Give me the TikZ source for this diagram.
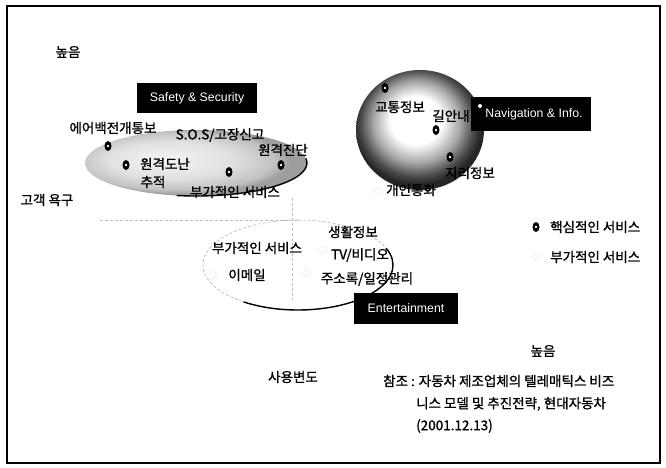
\documentclass[tikz,border=0pt]{standalone}
\usepackage{fontspec}
\setmainfont{Noto Sans CJK KR}[FakeBold=1.2]
\newfontfamily\latinf{Liberation Sans}
\usetikzlibrary{shapes.geometric}
\pgfdeclareradialshading{navball}{\pgfpoint{-2bp}{5bp}}{color(0bp)=(white); color(10bp)=(white); color(17bp)=(black!35); color(22bp)=(black!70); color(25bp)=(black!85); color(50bp)=(black!85)}
\pgfdeclareradialshading{safeball}{\pgfpoint{-8bp}{3bp}}{color(0bp)=(black!4); color(14bp)=(black!12); color(22bp)=(black!24); color(25bp)=(black!38); color(50bp)=(black!38)}
\begin{document}
\begin{tikzpicture}[x=1pt,y=-1pt,
  lbl/.style={font=\fontsize{13.5}{15}\selectfont, inner sep=0pt},
  tag/.style={fill=black, text=white, font=\latinf\fontsize{12.3}{14}\selectfont, inner sep=0pt},
  core/.style={ellipse, fill=black, minimum width=7pt, minimum height=10pt, inner sep=0pt,
     path picture={\fill[white] (path picture bounding box.center) circle (1.4pt);}},
  aux/.style={circle, draw=black!30, densely dotted, minimum size=7pt, inner sep=0pt},
  faint/.style={draw=black!25, densely dashed, line width=0.5pt}]
\useasboundingbox (0,0) rectangle (666,468);
\draw[line width=1.3pt] (7,6) rectangle (660,463);

% faint guide lines
\draw[faint] (100,220) -- (300,220);
\draw[faint] (292,198) -- (292,300);

% Safety & Security
\shade[shading=safeball] (196,163) ellipse [x radius=111, y radius=33];
\draw[line width=1.4pt] (196,163) ++(100:111 and 33) arc [start angle=100, end angle=-8, x radius=111, y radius=33];
\node[lbl] (airbag) at (113,128) {에어백전개통보};
\node[lbl] (sos) at (220,135) {S.O.S/고장신고};
\node[lbl] (diag) at (283,150) {원격진단};
\node[lbl] (theft) at (165,164) {원격도난};
\node[lbl] (track) at (153,182) {추적};
\node[lbl] (ssadd) at (235,192) {부가적인 서비스};
\node[core] (s1) at (108,146) {};
\node[core] (s2) at (126,165) {};
\node[core] (s3) at (229,172) {};
\node[core] (s4) at (281,165) {};
\node[tag, minimum width=120pt, minimum height=30pt] (ss) at (197,98) {Safety \& Security};

% Navigation & Info
\shade[shading=navball] (420,130) ellipse [x radius=64, y radius=60];
\node[lbl] (traffic) at (400,107) {교통정보};
\node[lbl] (route) at (451,116) {길안내};
\node[lbl] (geo) at (470,173) {지리정보};
\node[lbl] (call) at (411,190) {개인통화};
\node[aux] (n4) at (378,191) {};
\node[core] (n1) at (385,88) {};
\node[core] (n2) at (436,130) {};
\node[core] (n3) at (450,157) {};
\node[tag, minimum width=120pt, minimum height=33pt] (nav) at (531,114) {\hspace{6pt}Navigation \& Info.};
\node[circle, fill=white, minimum size=4pt, inner sep=0pt] (n5) at (480,106) {};

% Entertainment
\draw[draw=black!30, densely dashed, line width=0.6pt] (298,265) ellipse [x radius=95, y radius=45];
\draw[line width=1.4pt] (298,265) ++(125:95 and 45) arc [start angle=125, end angle=-22, x radius=95, y radius=45];
\node[lbl] (life) at (353,232) {생활정보};
\node[lbl] (tv) at (360,255) {TV/비디오};
\node[lbl] (addr) at (367,279) {주소록/일정관리};
\node[lbl] (enadd) at (257,248) {부가적인 서비스};
\node[lbl] (mail) at (247,275) {이메일};
\node[aux] (e1) at (213,275) {};
\node[aux] (e2) at (323,250) {};
\node[aux] (e3) at (307,273) {};
\node[tag, minimum width=104pt, minimum height=31pt] (ent) at (406,308) {Entertainment};

% axes labels
\node[lbl] (hi1) at (68,52) {높음};
\node[lbl] (need) at (47,200) {고객 욕구};
\node[lbl] (freq) at (293,377) {사용변도};
\node[lbl] (hi2) at (543,351) {높음};

% legend
\node[core] (lg1) at (536,227) {};
\node[lbl, anchor=west] (lgt1) at (550,227) {핵심적인 서비스};
\node[aux] (lg2) at (536,257) {};
\node[lbl, anchor=west] (lgt2) at (550,257) {부가적인 서비스};

% source
\node[lbl, anchor=west] (src1) at (383,381) {참조 : 자동차 제조업체의 텔레매틱스 비즈};
\node[lbl, anchor=west] (src2) at (416,404) {니스 모델 및 추진전략, 현대자동차};
\node[lbl, anchor=west] (src3) at (416,426) {(2001.12.13)};
\end{tikzpicture}
\end{document}
